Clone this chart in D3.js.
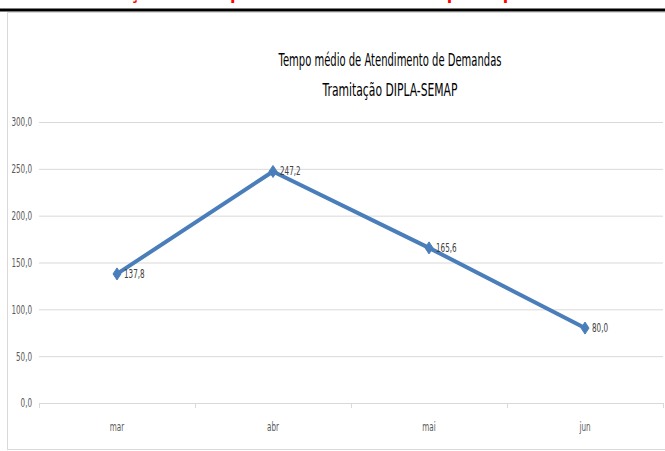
<!DOCTYPE html>
<html>
<head>
<meta charset="utf-8">
<script src="https://cdn.jsdelivr.net/npm/d3@7"></script>
<style>
  body { margin: 0; background: #fff; }
  svg { display: block; }
</style>
</head>
<body>
<svg width="665" height="451"></svg>
<script>
var months = ["mar", "abr", "mai", "jun"]
var tempoMedio = [137.8, 247.2, 165.6, 80.0]
var yTicks = [0, 50, 100, 150, 200, 250, 300]
var titleLines = ["Tempo médio de Atendimento de Demandas", "Tramitação  DIPLA-SEMAP"]
var titleWidths = [223, 135]

/* helpers
----------------------------------------------------------------*/
function fmt(v){
    return d3.format(".1f")(v).replace(".", ",");
}

// the reference font is a narrow one, so squeeze the rendered text
function squeeze(sel, k){
    sel.each(function(){
        var w = this.getComputedTextLength();
        d3.select(this).attr("textLength", w * k).attr("lengthAdjust", "spacingAndGlyphs");
    });
}

function drawChart(){
    var svg = d3.select("svg"),
        font = "'DejaVu Sans', sans-serif",
        margin = {top: 122, right: 2, bottom: 48, left: 39},
        width = 665 - margin.left - margin.right,
        height = 451 - margin.top - margin.bottom;

    // cut off red heading at the very top of the page
    svg.append("text")
        .attr("x", 332).attr("y", -1)
        .attr("text-anchor", "middle")
        .attr("fill", "#ff0000")
        .attr("font-family", font)
        .attr("font-weight", "bold")
        .attr("font-size", 20)
        .text("Evolução do tempo de atendimento – Mapa do processo")
        .call(squeeze, 0.8);

    svg.append("line")
        .attr("x1", 0).attr("x2", 665)
        .attr("y1", 10).attr("y2", 10)
        .attr("stroke", "#000").attr("stroke-width", 3);

    // chart frame
    svg.append("rect")
        .attr("x", 7.5).attr("y", 12.5)
        .attr("width", 670).attr("height", 437)
        .attr("fill", "#fff")
        .attr("stroke", "#d9d9d9");

    svg.selectAll(".title").data(titleLines).enter().append("text")
        .attr("class", "title")
        .attr("x", 390)
        .attr("y", function(d, i){ return 66 + i * 30; })
        .attr("text-anchor", "middle")
        .attr("font-family", font)
        .attr("font-size", 17)
        .attr("fill", "#000")
        .attr("textLength", function(d, i){ return titleWidths[i]; })
        .attr("lengthAdjust", "spacingAndGlyphs")
        .text(function(d){ return d; });

    var g = svg.append("g").attr("transform", "translate(" + margin.left + "," + margin.top + ")");

    var x = d3.scaleBand().domain(months).range([0, width]);
    var y = d3.scaleLinear().domain([0, 300]).range([height, 0]);

    // gridlines + y labels
    var yAxis = g.append("g")
        .call(d3.axisLeft(y).tickValues(yTicks).tickSize(-width).tickPadding(7).tickFormat(fmt));
    yAxis.select(".domain").remove();
    yAxis.selectAll(".tick line").attr("stroke", "#d9d9d9");
    yAxis.selectAll(".tick text")
        .attr("font-family", font).attr("font-size", 12).attr("fill", "#595959")
        .call(squeeze, 0.6);

    // category axis
    var xAxis = g.append("g")
        .attr("transform", "translate(0," + height + ")")
        .call(d3.axisBottom(x).tickSize(0).tickPadding(19));
    xAxis.select(".domain").attr("stroke", "#d9d9d9");
    xAxis.selectAll(".tick text")
        .attr("font-family", font).attr("font-size", 12).attr("fill", "#595959")
        .call(squeeze, 0.6);
    xAxis.selectAll(".sep").data(d3.range(months.length + 1)).enter().append("line")
        .attr("class", "sep")
        .attr("x1", function(d){ return d * x.step() + 0.5; })
        .attr("x2", function(d){ return d * x.step() + 0.5; })
        .attr("y1", 0).attr("y2", 5)
        .attr("stroke", "#d9d9d9");

    var data = months.map(function(m, i){ return {m: m, v: tempoMedio[i]}; });
    var cx = function(d){ return x(d.m) + x.bandwidth() / 2; };

    var line = d3.line()
        .x(cx)
        .y(function(d){ return y(d.v); });

    g.append("path")
        .datum(data)
        .attr("fill", "none")
        .attr("stroke", "#4a7ebb")
        .attr("stroke-width", 4)
        .attr("stroke-linejoin", "round")
        .attr("d", line);

    g.selectAll(".pt").data(data).enter().append("path")
        .attr("class", "pt")
        .attr("transform", function(d){ return "translate(" + cx(d) + "," + y(d.v) + ")"; })
        .attr("d", "M0,-6L4,0L0,6L-4,0Z")
        .attr("fill", "#4a7ebb")
        .attr("stroke", "#4a7ebb");

    g.selectAll(".lbl").data(data).enter().append("text")
        .attr("class", "lbl")
        .attr("x", function(d){ return cx(d) + 7; })
        .attr("y", function(d){ return y(d.v) + 4; })
        .attr("font-family", font).attr("font-size", 12).attr("fill", "#404040")
        .text(function(d){ return fmt(d.v); })
        .call(squeeze, 0.6);
}

drawChart();
</script>
</body>
</html>
